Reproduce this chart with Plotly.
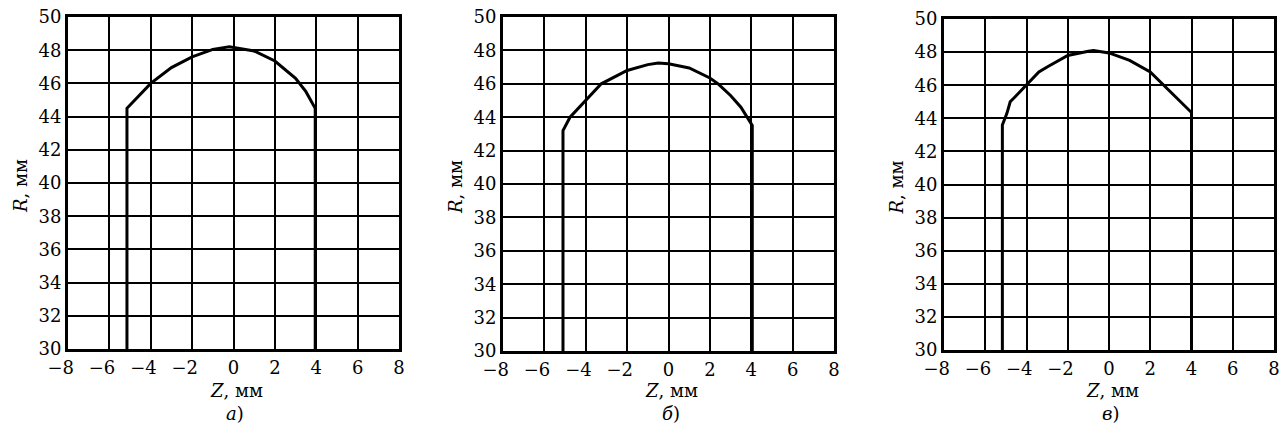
import plotly.graph_objects as go

# Profile R(Z) for three variants: vertical side walls joined by a dome
z_a = [-5.15, -5.15, -4.0, -3.0, -2.0, -1.0, -0.2, 1.0, 2.0, 3.0, 3.5, 3.95, 3.95]
r_a = [30.0, 44.5, 46.0, 46.95, 47.6, 48.05, 48.2, 47.95, 47.35, 46.3, 45.5, 44.5, 30.0]

z_b = [-5.1, -5.1, -4.76, -4.0, -3.25, -2.0, -1.0, -0.5, 0.0, 1.0, 2.0, 2.4, 3.0, 3.5, 4.05, 4.05]
r_b = [30.0, 43.2, 44.0, 45.0, 46.0, 46.8, 47.15, 47.25, 47.2, 46.95, 46.35, 46.0, 45.3, 44.6, 43.5, 30.0]

z_c = [-5.17, -5.17, -4.95, -4.79, -4.55, -4.0, -3.4, -3.0, -2.0, -1.0, -0.75, 0.0, 1.0, 2.0, 3.0, 4.0, 4.0]
r_c = [30.0, 43.6, 44.3, 45.0, 45.3, 46.0, 46.8, 47.1, 47.8, 48.05, 48.1, 47.95, 47.5, 46.8, 45.6, 44.35, 30.0]

panels = [(z_a, r_a, "а"), (z_b, r_b, "б"), (z_c, r_c, "в")]

z_ticks = [-8, -6, -4, -2, 0, 2, 4, 6, 8]
r_ticks = [30, 32, 34, 36, 38, 40, 42, 44, 46, 48, 50]

W, H = 1279, 427
# plot-area boxes in pixels: left, right, top, bottom
boxes = [(68, 399, 17, 349), (503, 834, 17, 351), (944, 1274, 19, 350)]

FONT = "DejaVu Serif"
FS = 18

# negative labels keep the digit centred on the tick, minus hanging left
z_text = [("\u2212%d\u2002\u00a0" % -v) if v < 0 else str(v) for v in z_ticks]

fig = go.Figure()
annotations = []
for i, ((z, r, letter), (l, rr, t, b)) in enumerate(zip(panels, boxes), start=1):
    sfx = "" if i == 1 else str(i)
    fig.add_trace(go.Scatter(
        x=z, y=r, mode="lines",
        line=dict(color="black", width=3),
        xaxis="x" + sfx, yaxis="y" + sfx, showlegend=False, hoverinfo="skip",
    ))
    common = dict(
        showgrid=True, gridcolor="black", gridwidth=2,
        showline=True, linecolor="black", linewidth=3, mirror=True,
        zeroline=False, ticks="", ticklen=0, automargin=False,
        ticklabeloverflow="allow", tickangle=0,
        tickfont=dict(family=FONT, size=FS, color="black"),
    )
    fig.update_layout(**{
        "xaxis" + sfx: dict(
            domain=[l / W, rr / W], range=[-8, 8],
            tickvals=z_ticks, ticktext=z_text,
            anchor="y" + sfx, ticklabelstandoff=0, **common),
        "yaxis" + sfx: dict(
            domain=[1 - b / H, 1 - t / H], range=[30, 50],
            tickvals=r_ticks, anchor="x" + sfx, ticklabelstandoff=0, **common),
    })
    cx = (l + rr) / 2
    annotations.append(dict(
        text="<i>Z</i>, мм", x=(cx + 3) / W, y=1 - 390 / H,
        xref="paper", yref="paper", showarrow=False,
        xanchor="center", yanchor="middle", borderpad=0,
        font=dict(family=FONT, size=FS, color="black")))
    annotations.append(dict(
        text="<i>%s</i>)" % letter, x=(cx + 2) / W, y=1 - 413 / H,
        xref="paper", yref="paper", showarrow=False,
        xanchor="center", yanchor="middle", borderpad=0,
        font=dict(family=FONT, size=FS, color="black")))
    annotations.append(dict(
        text="<i>R</i>, мм", x=(l - 48) / W, y=1 - ((t + b) / 2 + 3) / H,
        xref="paper", yref="paper", showarrow=False, textangle=-90,
        xanchor="center", yanchor="middle",
        font=dict(family=FONT, size=FS, color="black")))

fig.update_layout(
    width=W, height=H,
    margin=dict(l=0, r=0, t=0, b=0),
    paper_bgcolor="white", plot_bgcolor="white",
    annotations=annotations,
)

fig.write_html("out.html")
